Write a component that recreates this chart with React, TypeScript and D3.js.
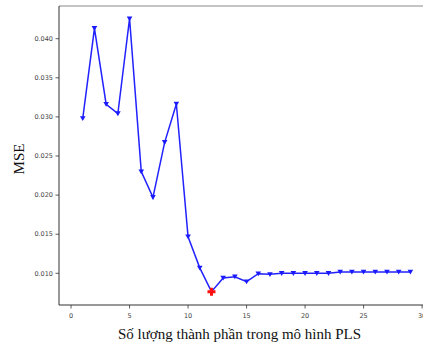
import React from "react";
import * as d3 from "d3";

const components = [1,2,3,4,5,6,7,8,9,10,11,12,13,14,15,16,17,18,19,20,21,22,23,24,25,26,27,28,29];
const mseValues = [0.0298,0.04133,0.03162,0.03043,0.04256,0.0230,0.01972,0.02675,0.03165,0.01468,0.0107,0.00765,0.0094,0.00957,0.00893,0.00995,0.00987,0.0100,0.0100,0.0100,0.0100,0.0100,0.01017,0.01017,0.01017,0.01017,0.01017,0.01017,0.01017];
const bestIndex = 11;
const xTicks = [0,5,10,15,20,25,30];
const yTicks = [0.010,0.015,0.020,0.025,0.030,0.035,0.040];
const xLabel = "Số lượng thành phần trong mô hình PLS";
const yLabel = "MSE";

const W = 423, H = 344;
const L = 59, T = 6, B = 305;

export default function App() {
  const x = d3.scaleLinear().domain([-1.03, 31]).range([L, 433.8]);
  const y = d3.scaleLinear().domain([0.00595, 0.04418]).range([B, T]);
  const line = d3.line<number>().x((_, i) => x(components[i])).y((d) => y(d));
  const tri = (cx: number, cy: number) => `M${cx - 2.8},${cy - 2.2}L${cx + 2.8},${cy - 2.2}L${cx},${cy + 2.6}Z`;
  const plus = (cx: number, cy: number) => {
    const a = 1.5, b = 4;
    return `M${cx - a},${cy - b}H${cx + a}V${cy - a}H${cx + b}V${cy + a}H${cx + a}V${cy + b}H${cx - a}V${cy + a}H${cx - b}V${cy - a}H${cx - a}Z`;
  };
  return (
    <svg width={W} height={H} style={{ position: "absolute", left: 0, top: 0, background: "#fff" }}>
      {/* spines */}
      <line x1={L} x2={W} y1={T} y2={T} stroke="#b0b0b0" strokeWidth={1.5} />
      <line x1={L} x2={L} y1={T} y2={B} stroke="#333" strokeWidth={1} />
      <line x1={L} x2={W} y1={B} y2={B} stroke="#333" strokeWidth={1} />
      {yTicks.map((t) => (
        <g key={t}>
          <line x1={L - 3.5} x2={L} y1={y(t)} y2={y(t)} stroke="#333" strokeWidth={0.8} />
          <text x={L - 6} y={y(t)} dy="0.35em" textAnchor="end" fontFamily="DejaVu Sans" fontSize={6.5} fill="#444">
            {t.toFixed(3)}
          </text>
        </g>
      ))}
      {xTicks.map((t) => (
        <g key={t}>
          <line x1={x(t)} x2={x(t)} y1={B} y2={B + 3.5} stroke="#333" strokeWidth={0.8} />
          <text x={x(t)} y={B + 13} textAnchor="middle" fontFamily="DejaVu Sans" fontSize={6.5} fill="#444">
            {t}
          </text>
        </g>
      ))}
      <path d={line(mseValues) || ""} fill="none" stroke="#2222ff" strokeWidth={1.5} />
      {mseValues.map((v, i) =>
        i === bestIndex ? null : <path key={i} d={tri(x(components[i]), y(v))} fill="#1a1aff" />
      )}
      <path d={plus(x(components[bestIndex]), y(mseValues[bestIndex]))} fill="#ff1010" />
      <text x={239.5} y={339} textAnchor="middle" fontFamily="Liberation Serif" fontSize={15} fill="#111">
        {xLabel}
      </text>
      <text transform="translate(24,159) rotate(-90)" textAnchor="middle" fontFamily="Liberation Serif" fontSize={15} fill="#111">
        {yLabel}
      </text>
    </svg>
  );
}
